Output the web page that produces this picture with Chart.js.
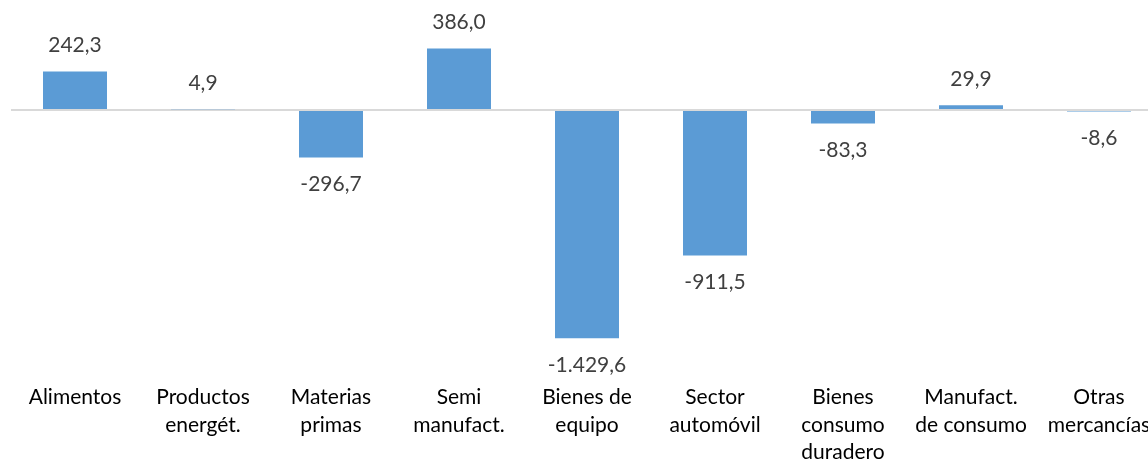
<!DOCTYPE html>
<html>
<head>
<meta charset="utf-8">
<script src="https://cdn.jsdelivr.net/npm/chart.js@4"></script>
<style>
html,body{margin:0;padding:0;background:#fff;overflow:hidden;}
#wrap{width:1170px;height:484px;}
</style>
</head>
<body>
<div id="wrap"><canvas id="c" width="1170" height="484"></canvas></div>
<script>
const categories = [
  ["Alimentos"],
  ["Productos", "energét."],
  ["Materias", "primas"],
  ["Semi", "manufact."],
  ["Bienes de", "equipo"],
  ["Sector", "automóvil"],
  ["Bienes", "consumo", "duradero"],
  ["Manufact.", "de consumo"],
  ["Otras", "mercancías"]
];
const values = [242.3, 4.9, -296.7, 386.0, -1429.6, -911.5, -83.3, 29.9, -8.6];
const yMin = -1600;
const yMax = 690;

function fmtEs(v) {
  const neg = v < 0;
  const parts = Math.abs(v).toFixed(1).split(".");
  const intPart = parts[0].replace(/\B(?=(\d{3})+(?!\d))/g, ".");
  return (neg ? "-" : "") + intPart + "," + parts[1];
}

const labelPlugin = {
  id: "barLabels",
  afterDatasetsDraw(chart) {
    const ctx = chart.ctx;
    const meta = chart.getDatasetMeta(0);
    ctx.save();
    ctx.font = "21px Lato";
    ctx.fillStyle = "#404040";
    ctx.textAlign = "center";
    ctx.textBaseline = "middle";
    meta.data.forEach((bar, i) => {
      const v = values[i];
      const y = v >= 0 ? bar.y - 26 : bar.y + 27;
      ctx.fillText(fmtEs(v), bar.x, y);
    });
    ctx.restore();
  }
};

new Chart(document.getElementById("c"), {
  type: "bar",
  data: {
    labels: categories,
    datasets: [{
      data: values,
      backgroundColor: "#5B9BD5",
      borderWidth: 0,
      categoryPercentage: 1.0,
      barPercentage: 0.5
    }]
  },
  options: {
    responsive: false,
    animation: false,
    devicePixelRatio: 1,
    layout: { padding: { left: 11, right: 7, top: 0, bottom: 0 } },
    plugins: { legend: { display: false }, tooltip: { enabled: false } },
    scales: {
      x: {
        grid: { display: false, drawTicks: false },
        border: { display: false },
        ticks: {
          autoSkip: false,
          maxRotation: 0,
          minRotation: 0,
          padding: 18,
          color: "#000000",
          font: { family: "Lato", size: 21, lineHeight: 1.31 }
        }
      },
      y: {
        min: yMin,
        max: yMax,
        afterBuildTicks: (axis) => { axis.ticks = [{ value: 0 }]; },
        ticks: { display: false },
        border: { display: false },
        grid: { drawTicks: false, color: "#d9d9d9", lineWidth: 2 }
      }
    }
  },
  plugins: [labelPlugin]
});
</script>
</body>
</html>
